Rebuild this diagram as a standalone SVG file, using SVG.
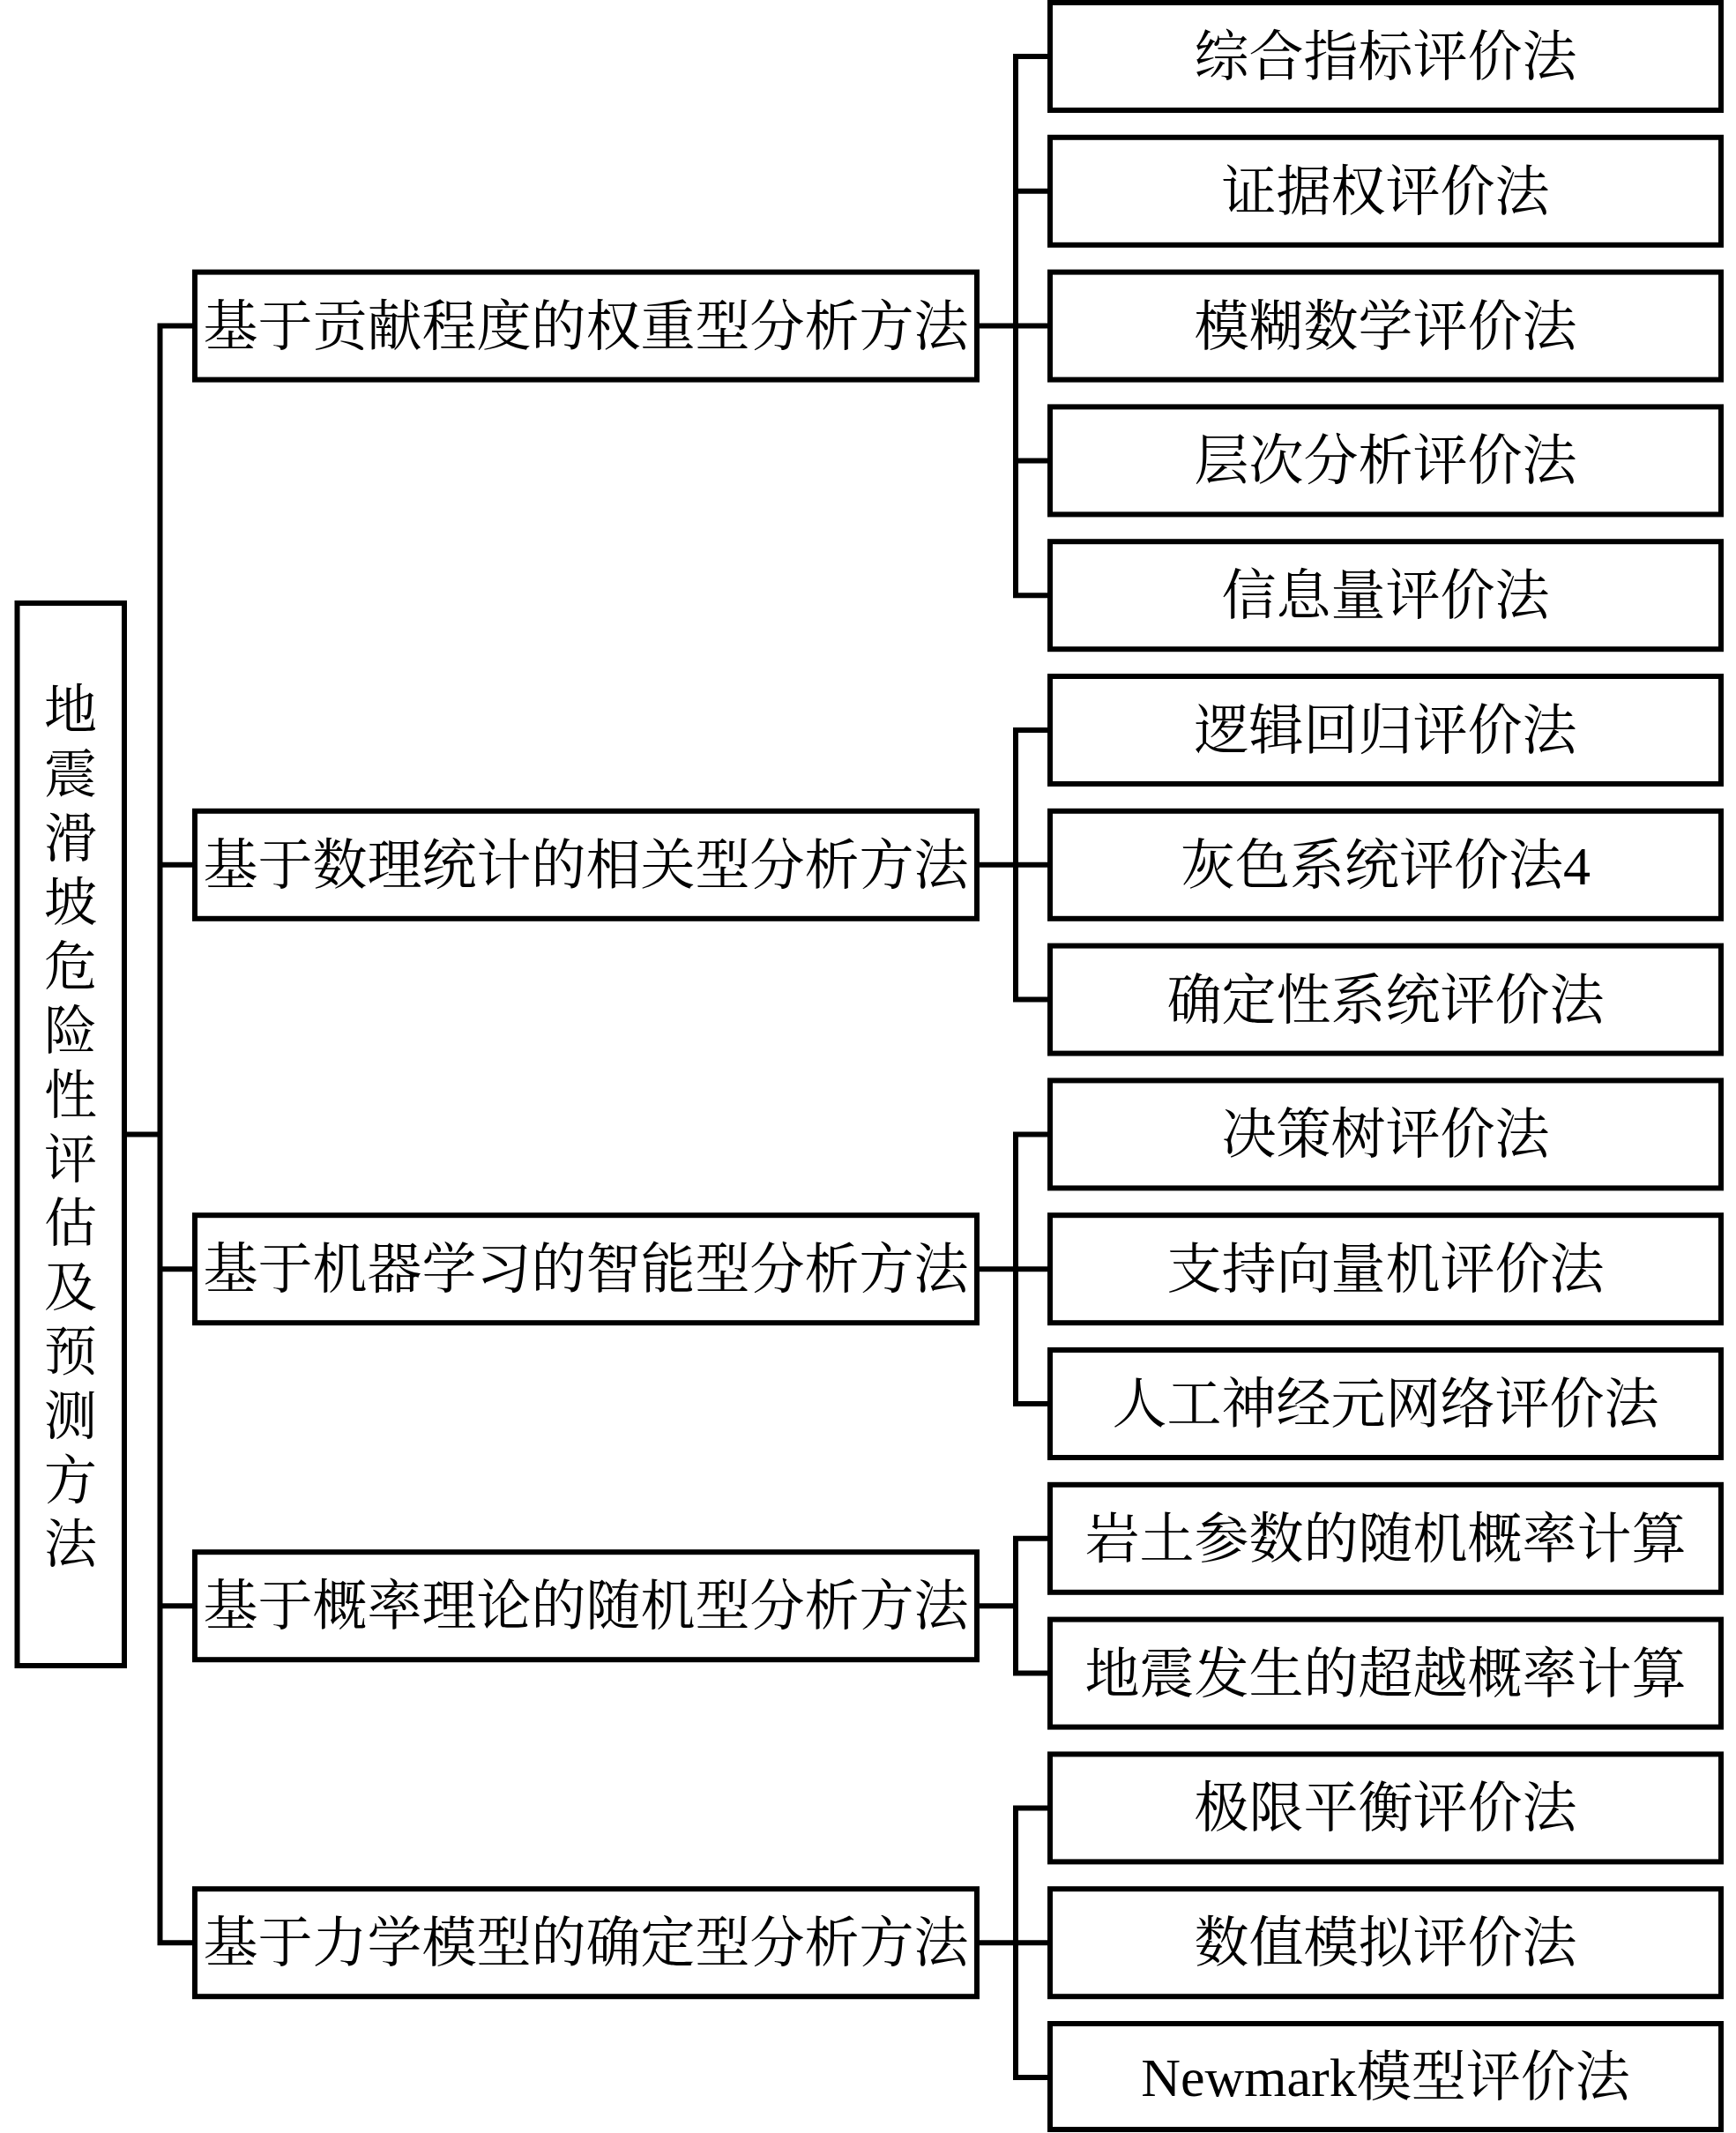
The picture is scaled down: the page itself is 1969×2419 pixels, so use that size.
<svg xmlns="http://www.w3.org/2000/svg" width="1969" height="2419" viewBox="0 0 1969 2419">
<style>
.box{fill:#fff;stroke:#000;stroke-width:6}
.ln{stroke:#000;stroke-width:6;fill:none;stroke-linecap:square}
.t{font-family:"Liberation Serif","Noto Serif CJK SC","Noto Sans CJK SC",serif;font-size:62px;fill:#000;text-anchor:middle}
.v{font-family:"Liberation Serif","Noto Serif CJK SC","Noto Sans CJK SC",serif;font-size:60px;fill:#000;text-anchor:middle}
</style>
<rect width="1969" height="2419" fill="#fff"/>
<g id="connectors">
<path class="ln" d="M141 1286.4H181.5M181.5 369.6V2203.2M181.5 369.6H221M181.5 980.8H221M181.5 1439.2H221M181.5 1821.2H221M181.5 2203.2H221"/>
<path class="ln" d="M1108 369.6H1152M1152 64V675.2M1152 64H1191M1152 216.8H1191M1152 369.6H1191M1152 522.4H1191M1152 675.2H1191"/>
<path class="ln" d="M1108 980.8H1152M1152 828V1133.6M1152 828H1191M1152 980.8H1191M1152 1133.6H1191"/>
<path class="ln" d="M1108 1439.2H1152M1152 1286.4V1592M1152 1286.4H1191M1152 1439.2H1191M1152 1592H1191"/>
<path class="ln" d="M1108 1821.2H1152M1152 1744.8V1897.6M1152 1744.8H1191M1152 1897.6H1191"/>
<path class="ln" d="M1108 2203.2H1152M1152 2050.4V2356M1152 2050.4H1191M1152 2203.2H1191M1152 2356H1191"/>
</g>
<g id="root">
<rect class="box" x="19.5" y="684" width="121.5" height="1205"/>
<text class="v"><tspan x="80" y="826">地</tspan><tspan x="80" y="898.8">震</tspan><tspan x="80" y="971.6">滑</tspan><tspan x="80" y="1044.4">坡</tspan><tspan x="80" y="1117.2">危</tspan><tspan x="80" y="1190">险</tspan><tspan x="80" y="1262.8">性</tspan><tspan x="80" y="1335.6">评</tspan><tspan x="80" y="1408.4">估</tspan><tspan x="80" y="1481.2">及</tspan><tspan x="80" y="1554">预</tspan><tspan x="80" y="1626.8">测</tspan><tspan x="80" y="1699.6">方</tspan><tspan x="80" y="1772.4">法</tspan></text>
</g>
<g id="m1"><rect class="box" x="221" y="308.6" width="887" height="122"/><text class="t" x="664.5" y="391.6">基于贡献程度的权重型分析方法</text></g>
<g id="m2"><rect class="box" x="221" y="919.8" width="887" height="122"/><text class="t" x="664.5" y="1002.8">基于数理统计的相关型分析方法</text></g>
<g id="m3"><rect class="box" x="221" y="1378.2" width="887" height="122"/><text class="t" x="664.5" y="1461.2">基于机器学习的智能型分析方法</text></g>
<g id="m4"><rect class="box" x="221" y="1760.2" width="887" height="122"/><text class="t" x="664.5" y="1843.2">基于概率理论的随机型分析方法</text></g>
<g id="m5"><rect class="box" x="221" y="2142.2" width="887" height="122"/><text class="t" x="664.5" y="2225.2">基于力学模型的确定型分析方法</text></g>
<g id="r0"><rect class="box" x="1191" y="3" width="761" height="122"/><text class="t" x="1571.5" y="86">综合指标评价法</text></g>
<g id="r1"><rect class="box" x="1191" y="155.8" width="761" height="122"/><text class="t" x="1571.5" y="238.8">证据权评价法</text></g>
<g id="r2"><rect class="box" x="1191" y="308.6" width="761" height="122"/><text class="t" x="1571.5" y="391.6">模糊数学评价法</text></g>
<g id="r3"><rect class="box" x="1191" y="461.4" width="761" height="122"/><text class="t" x="1571.5" y="544.4">层次分析评价法</text></g>
<g id="r4"><rect class="box" x="1191" y="614.2" width="761" height="122"/><text class="t" x="1571.5" y="697.2">信息量评价法</text></g>
<g id="r5"><rect class="box" x="1191" y="767" width="761" height="122"/><text class="t" x="1571.5" y="850">逻辑回归评价法</text></g>
<g id="r6"><rect class="box" x="1191" y="919.8" width="761" height="122"/><text class="t" x="1571.5" y="1002.8">灰色系统评价法4</text></g>
<g id="r7"><rect class="box" x="1191" y="1072.6" width="761" height="122"/><text class="t" x="1571.5" y="1155.6">确定性系统评价法</text></g>
<g id="r8"><rect class="box" x="1191" y="1225.4" width="761" height="122"/><text class="t" x="1571.5" y="1308.4">决策树评价法</text></g>
<g id="r9"><rect class="box" x="1191" y="1378.2" width="761" height="122"/><text class="t" x="1571.5" y="1461.2">支持向量机评价法</text></g>
<g id="r10"><rect class="box" x="1191" y="1531" width="761" height="122"/><text class="t" x="1571.5" y="1614">人工神经元网络评价法</text></g>
<g id="r11"><rect class="box" x="1191" y="1683.8" width="761" height="122"/><text class="t" x="1571.5" y="1766.8">岩土参数的随机概率计算</text></g>
<g id="r12"><rect class="box" x="1191" y="1836.6" width="761" height="122"/><text class="t" x="1571.5" y="1919.6">地震发生的超越概率计算</text></g>
<g id="r13"><rect class="box" x="1191" y="1989.4" width="761" height="122"/><text class="t" x="1571.5" y="2072.4">极限平衡评价法</text></g>
<g id="r14"><rect class="box" x="1191" y="2142.2" width="761" height="122"/><text class="t" x="1571.5" y="2225.2">数值模拟评价法</text></g>
<g id="r15"><rect class="box" x="1191" y="2295" width="761" height="120"/><text class="t" x="1571.5" y="2377">Newmark模型评价法</text></g>
</svg>
